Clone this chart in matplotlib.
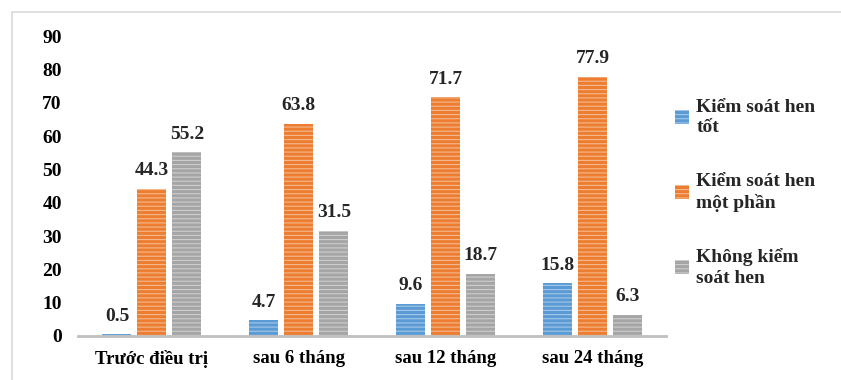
import numpy as np
import matplotlib.pyplot as plt
from matplotlib.patches import Rectangle

plt.rcParams['font.family'] = ['Liberation Serif', 'DejaVu Serif']
plt.rcParams['font.weight'] = 'bold'
plt.rcParams['hatch.linewidth'] = 0.8

categories = ['Trước điều trị', 'sau 6 tháng', 'sau 12 tháng', 'sau 24 tháng']
series_names = ['Kiểm soát hen\ntốt', 'Kiểm soát hen\nmột phần', 'Không kiểm\nsoát hen']
good = [0.5, 4.7, 9.6, 15.8]
partial = [44.3, 63.8, 71.7, 77.9]
uncontrolled = [55.2, 31.5, 18.7, 6.3]
colors = ['#5B9BD5', '#ED7D31', '#A5A5A5']

fig = plt.figure(figsize=(8.41, 3.80), dpi=100)
ax = fig.add_axes([0.0933, 0.1158, 0.699, 0.7884])

# light frame around the whole chart
fig.patches.append(Rectangle((12 / 841, -0.1), 1.2, 1.1 - 12 / 380,
                             transform=fig.transFigure, fill=False,
                             edgecolor='#D9D9D9', linewidth=1.2))

x = np.arange(len(categories))
width = 0.197
step = 0.238
for i, (vals, col, name) in enumerate(zip([good, partial, uncontrolled], colors, series_names)):
    pos = x + (i - 1) * step
    bars = ax.bar(pos, vals, width, color=col, edgecolor=(1, 1, 1, 0.45),
                  linewidth=0, hatch='----', label=name)
    for b, v in zip(bars, vals):
        ax.annotate(f'{v}', (b.get_x() + b.get_width() / 2, v),
                    xytext=(0, 7), textcoords='offset points',
                    ha='center', va='bottom', fontsize=14, fontweight='bold',
                    color='#262626')

ax.set_xlim(-0.5, len(categories) - 0.5)
ax.set_ylim(0, 90)
ax.set_yticks(range(0, 91, 10))
ax.set_xticks(x)
ax.set_xticklabels(categories, fontsize=13.5, fontweight='bold')
ax.tick_params(axis='y', labelsize=14, length=0, pad=12)
ax.tick_params(axis='x', length=0, pad=10)
for lab in ax.get_yticklabels():
    lab.set_fontweight('bold')
for s in ['top', 'right', 'left']:
    ax.spines[s].set_visible(False)
ax.spines['bottom'].set_color('#BFBFBF')
ax.spines['bottom'].set_linewidth(2)

leg = ax.legend(loc='upper left', bbox_to_anchor=(0.985, 0.85), frameon=False,
                handlelength=0.7, handleheight=0.7,
                handletextpad=0.4, labelspacing=1.9,
                prop={'weight': 'bold', 'size': 14})
for t in leg.get_texts():
    t.set_color('#262626')
    t.set_linespacing(1.25)

fig.savefig('out.png', dpi=100)
